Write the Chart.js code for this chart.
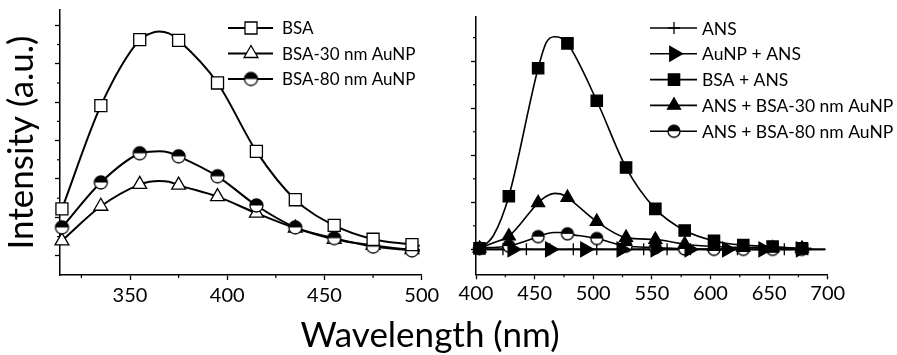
<!DOCTYPE html>
<html><head><meta charset="utf-8">
<script src="https://cdn.jsdelivr.net/npm/chart.js@4/dist/chart.umd.min.js"></script>
<style>
html,body{margin:0;padding:0;background:#fff;width:897px;height:355px;overflow:hidden}
canvas{position:absolute;left:0;top:0}
</style></head><body>
<canvas id="left" width="897" height="355"></canvas>
<canvas id="right" width="897" height="355"></canvas>
<script>
// ---------- Left panel data (Trp emission) ----------
const leftMarkerNm = [315,335,355,375,395,415,435,455,475,495];
const bsaMarkers   = [1.22,3.91,5.63,5.61,4.50,2.72,1.46,0.79,0.43,0.29];
const bsa30Markers = [0.39,1.29,1.86,1.84,1.54,1.11,0.72,0.43,0.27,0.16];
const bsa80Markers = [0.74,1.91,2.67,2.59,2.07,1.31,0.74,0.46,0.24,0.14];
const leftCurveNm  = [315,335,355,360,365,370,375,395,415,435,455,475,495,499];
const bsaCurve     = [1.22,3.91,5.63,5.78,5.84,5.79,5.61,4.50,2.72,1.46,0.79,0.43,0.29,0.26];
const bsa30Curve   = [0.39,1.29,1.86,1.93,1.95,1.93,1.84,1.54,1.11,0.72,0.43,0.27,0.16,0.15];
const bsa80Curve   = [0.74,1.91,2.67,2.71,2.72,2.69,2.59,2.07,1.31,0.74,0.46,0.24,0.14,0.12];

// ---------- Right panel data (ANS emission) ----------
const rightMarkerNm = [403,428,453,478,503,528,553,578,603,628,653,678];
const bsaAnsMarkers = [0.02,1.13,3.85,4.38,3.16,1.74,0.86,0.40,0.18,0.09,0.06,0.02];
const ans30Markers  = [0.02,0.28,0.99,1.10,0.59,0.25,0.21,0.11,0.06,0.04,0.03,0.02];
const ans80Markers  = [0.02,0.07,0.27,0.33,0.23,0.07,0.04,0.01,0.00,0.00,0.00,0.00];
const ansMarkerNm   = [403,423,443,463,483,503,523,543,563,583,603,623,643,663,683];
const ansMarkers    = [0,0,0,0,0,0,0,0,0,0,0,0,0,0,0];
const aunpMarkerNm  = [431,463,493,524,553,582,614,645,677];
const aunpMarkers   = [0,0,0,0,0,0,0,0,0];
const rightCurveNm  = [401,403,415,428,453,460,467,472,478,503,528,553,578,603,628,653,678,686];
const bsaAnsCurve   = [0,0.02,0.30,1.13,3.85,4.40,4.52,4.50,4.38,3.16,1.74,0.86,0.40,0.18,0.09,0.06,0.02,0.02];
const ans30Curve    = [0,0.02,0.14,0.28,0.99,1.13,1.19,1.18,1.10,0.59,0.25,0.21,0.11,0.06,0.04,0.03,0.02,0.02];
const ans80Curve    = [0,0.02,0.04,0.07,0.27,0.33,0.36,0.36,0.33,0.23,0.07,0.04,0.01,0,0,0,0,0];
const baselineNm    = [400,698];
const ansCurve      = [0,0];
const aunpCurve     = [0,0];

// ---------- ticks ----------
const leftXTicks  = [350,400,450,500];
const leftXMinor  = [325,375,425,475];
const leftYTicks  = [0,1,2,3,4,5,6];
const leftYMinor  = [0.5,1.5,2.5,3.5,4.5,5.5];
const rightXTicks = [400,450,500,550,600,650,700];
const rightXMinor = [425,475,525,575,625,675];
const rightYTicks = [0,1,2,3,4];
const rightYMinor = [0.5,1.5,2.5,3.5,4.5];

const leftLabels  = ['BSA','BSA-30 nm AuNP','BSA-80 nm AuNP'];
const rightLabels = ['ANS','AuNP + ANS','BSA + ANS','ANS + BSA-30 nm AuNP','ANS + BSA-80 nm AuNP'];
const xTitle = 'Wavelength (nm)';
const yTitle = 'Intensity (a.u.)';

const FONT = 'Lato';

function xy(xs, ys){ return xs.map((x,i)=>({x:x, y:ys[i]})); }

function halfCircle(r, lw){
  const size = Math.ceil(2*r + lw + 2);
  const c = document.createElement('canvas'); c.width = size; c.height = size;
  const g = c.getContext('2d'); const m = size/2;
  g.beginPath(); g.arc(m,m,r,0,2*Math.PI); g.fillStyle='#fff'; g.fill();
  g.beginPath(); g.arc(m,m,r,Math.PI,2*Math.PI); g.closePath(); g.fillStyle='#000'; g.fill();
  g.beginPath(); g.arc(m,m,r,0,2*Math.PI); g.lineWidth=lw; g.strokeStyle='#000'; g.stroke();
  return c;
}
const halfL = halfCircle(6.5, 1.3);
const halfR = halfCircle(6, 1.3);

function drawMarker(ctx, m, x, y){
  ctx.save();
  ctx.translate(x, y);
  if (m.style instanceof HTMLCanvasElement){
    ctx.drawImage(m.style, -m.style.width/2, -m.style.height/2);
    ctx.restore(); return;
  }
  ctx.rotate((m.rotation||0)*Math.PI/180);
  ctx.beginPath();
  const r = m.radius;
  if (m.style === 'rect'){ const s = r*Math.SQRT1_2; ctx.rect(-s,-s,2*s,2*s); }
  else if (m.style === 'triangle'){
    for (let k=0;k<3;k++){ const a = k*2*Math.PI/3; const px=Math.sin(a)*r, py=-Math.cos(a)*r; if(k===0) ctx.moveTo(px,py); else ctx.lineTo(px,py); }
    ctx.closePath();
  } else if (m.style === 'cross'){ ctx.moveTo(0,-r); ctx.lineTo(0,r); ctx.moveTo(-r,0); ctx.lineTo(r,0); }
  ctx.fillStyle = m.fill; ctx.strokeStyle = '#000'; ctx.lineWidth = m.bw;
  if (m.style !== 'cross') ctx.fill();
  ctx.stroke();
  ctx.restore();
}

const leftStyles = [
  {style:'rect', radius:8.5, fill:'#fff', bw:1.3},
  {style:'triangle', radius:8, fill:'#fff', bw:1.3},
  {style:halfL, radius:6.5, fill:'#000', bw:1.3}
];
const rightStyles = [
  {style:'cross', radius:6, fill:'#000', bw:1.3},
  {style:'triangle', radius:8.5, rotation:90, fill:'#000', bw:1.3},
  {style:'rect', radius:8, fill:'#000', bw:1.3},
  {style:'triangle', radius:7.5, fill:'#000', bw:1.3},
  {style:halfR, radius:6, fill:'#000', bw:1.3}
];

function lineDs(xs, ys, w){
  return {data: xy(xs, ys), showLine:true, borderColor:'#000', borderWidth:w, pointRadius:0,
          cubicInterpolationMode:'monotone', fill:false, order:20, clip:false};
}
function markerDs(xs, ys, st, order){
  return {data: xy(xs, ys), showLine:false, pointStyle:st.style, pointRadius:st.radius,
          pointRotation:st.rotation||0, pointBackgroundColor:st.fill, pointBorderColor:'#000',
          pointBorderWidth:st.bw, pointHoverRadius:st.radius, order:order, clip:false};
}

const minorTicks = {
  id:'minorTicks',
  afterDatasetsDraw(chart, args, opts){
    const ctx = chart.ctx; ctx.save(); ctx.strokeStyle='#000'; ctx.lineWidth=1.2;
    for (const id in opts.scales){
      const s = chart.scales[id];
      for (const v of opts.scales[id]){
        const p = s.getPixelForValue(v);
        ctx.beginPath();
        if (s.isHorizontal()){ ctx.moveTo(p, chart.chartArea.bottom); ctx.lineTo(p, chart.chartArea.bottom + opts.length); }
        else { ctx.moveTo(chart.chartArea.left, p); ctx.lineTo(chart.chartArea.left - opts.length, p); }
        ctx.stroke();
      }
    }
    ctx.restore();
  }
};

const customLegend = {
  id:'customLegend',
  afterDraw(chart, args, opts){
    const ctx = chart.ctx; ctx.save();
    ctx.font = opts.fontSize + 'px ' + FONT; ctx.fillStyle='#000'; ctx.textBaseline='middle'; ctx.textAlign='left';
    opts.labels.forEach((lab, i) => {
      const y = opts.y0 + i*opts.dy;
      ctx.beginPath(); ctx.strokeStyle='#000'; ctx.lineWidth=opts.lw;
      ctx.moveTo(opts.x0, y); ctx.lineTo(opts.x1, y); ctx.stroke();
      drawMarker(ctx, opts.styles[i], opts.xm, y);
      ctx.fillText(lab, opts.xt, y + 1);
    });
    if (opts.title){
      ctx.font = opts.title.size + 'px ' + FONT; ctx.textAlign='center'; ctx.textBaseline='alphabetic';
      ctx.fillText(opts.title.text, opts.title.x, opts.title.y);
    }
    ctx.restore();
  }
};

function fixTicks(vals){ return (scale) => { scale.ticks = vals.map(v => ({value:v})); }; }

const axisCommon = {
  border:{display:true, color:'#000', width:1.5},
  grid:{display:true, drawOnChartArea:false, drawTicks:true, tickLength:5, tickColor:'#000', tickWidth:1.3}
};

// ---------- LEFT CHART ----------
new Chart(document.getElementById('left'), {
  type:'scatter',
  data:{datasets:[
    lineDs(leftCurveNm, bsaCurve, 2),
    lineDs(leftCurveNm, bsa30Curve, 2),
    lineDs(leftCurveNm, bsa80Curve, 2),
    markerDs(leftMarkerNm, bsaMarkers, leftStyles[0], 0),
    markerDs(leftMarkerNm, bsa30Markers, leftStyles[1], 2),
    markerDs(leftMarkerNm, bsa80Markers, leftStyles[2], 1)
  ]},
  options:{
    responsive:false, animation:false, devicePixelRatio:1,
    layout:{padding:{left:0, top:10, right:475.3, bottom:40}},
    plugins:{legend:{display:false}, tooltip:{enabled:false},
      minorTicks:{length:3, scales:{x:leftXMinor, y:leftYMinor}},
      customLegend:{labels:leftLabels, styles:leftStyles, x0:228, x1:273, xm:251, xt:282, y0:28, dy:25.5, fontSize:17, lw:1.8}
    },
    scales:{
      x:Object.assign({}, axisCommon, {type:'linear', min:314, max:500, afterBuildTicks:fixTicks(leftXTicks),
        afterFit:(s)=>{s.height=40;},
        ticks:{color:'#000', font:{family:FONT, size:20}, padding:4, maxRotation:0, autoSkip:false}}),
      y:Object.assign({}, axisCommon, {type:'linear', min:-0.5, max:6.4, afterBuildTicks:fixTicks(leftYTicks),
        afterFit:(s)=>{s.width=60;},
        ticks:{display:false},
        title:{display:true, text:yTitle, color:'#000', font:{family:FONT, size:35}, padding:{top:1, bottom:0}}})
    }
  },
  plugins:[minorTicks, customLegend]
});

// ---------- RIGHT CHART ----------
new Chart(document.getElementById('right'), {
  type:'scatter',
  data:{datasets:[
    lineDs(baselineNm, ansCurve, 1.6),
    lineDs(baselineNm, aunpCurve, 1.6),
    lineDs(rightCurveNm, bsaAnsCurve, 1.6),
    lineDs(rightCurveNm, ans30Curve, 1.6),
    lineDs(rightCurveNm, ans80Curve, 1.6),
    markerDs(ansMarkerNm, ansMarkers, rightStyles[0], 5),
    markerDs(aunpMarkerNm, aunpMarkers, rightStyles[1], 2),
    markerDs(rightMarkerNm, bsaAnsMarkers, rightStyles[2], 0),
    markerDs(rightMarkerNm, ans30Markers, rightStyles[3], 1),
    markerDs(rightMarkerNm, ans80Markers, rightStyles[4], 3)
  ]},
  options:{
    responsive:false, animation:false, devicePixelRatio:1,
    layout:{padding:{left:466, top:17, right:69.3, bottom:40.7}},
    plugins:{legend:{display:false}, tooltip:{enabled:false},
      minorTicks:{length:3, scales:{x:rightXMinor, y:rightYMinor}},
      customLegend:{labels:rightLabels, styles:rightStyles, x0:650, x1:697, xm:674, xt:702, y0:28, dy:25.8, fontSize:17.5, lw:1.6,
        title:{text:xTitle, x:430, y:347, size:35}}
    },
    scales:{
      x:Object.assign({}, axisCommon, {type:'linear', min:400, max:700, afterBuildTicks:fixTicks(rightXTicks),
        afterFit:(s)=>{s.height=40;},
        ticks:{color:'#000', font:{family:FONT, size:20}, padding:2, maxRotation:0, autoSkip:false}}),
      y:Object.assign({}, axisCommon, {type:'linear', min:-0.53, max:4.94, afterBuildTicks:fixTicks(rightYTicks),
        afterFit:(s)=>{s.width=10;},
        ticks:{display:false}})
    }
  },
  plugins:[minorTicks, customLegend]
});
</script>
</body></html>
